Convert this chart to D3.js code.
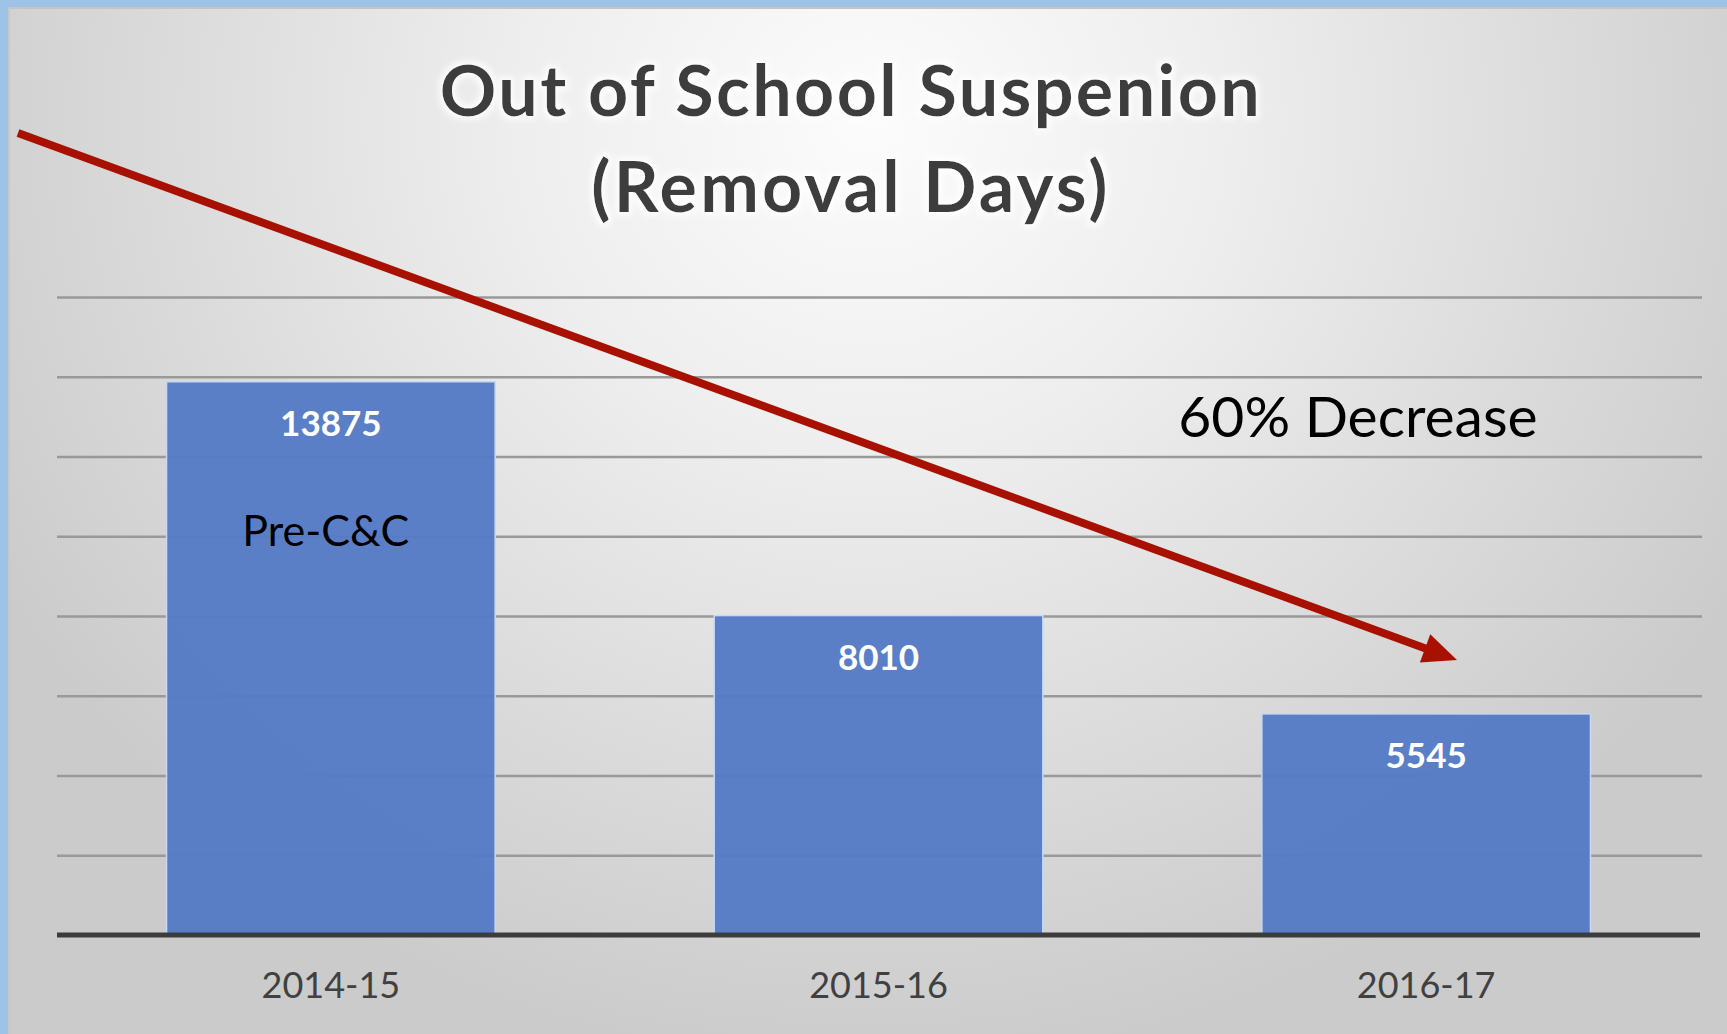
<!DOCTYPE html>
<html>
<head>
<meta charset="utf-8">
<script src="https://cdn.jsdelivr.net/npm/d3@7"></script>
<style>
  html, body { margin: 0; padding: 0; background: #fff; }
  svg { display: block; }
</style>
</head>
<body>
<svg id="chart" width="1727" height="1034"></svg>
<script>
// ---- data ----
const categories = ["2014-15", "2015-16", "2016-17"];
const values = [13875, 8010, 5545];
const yTicks = [0, 2000, 4000, 6000, 8000, 10000, 12000, 14000, 16000];
const titleLines = ["Out of School Suspenion", "(Removal Days)"];
const annotations = ["Pre-C&C", "60% Decrease"];

const W = 1727, H = 1034;
const svg = d3.select("#chart");
const defs = svg.append("defs");

// background gradient
const rg = defs.append("radialGradient").attr("id", "bg")
  .attr("gradientUnits", "userSpaceOnUse")
  .attr("cx", 870).attr("cy", 120).attr("r", 1000)
  .attr("gradientTransform", "translate(870,120) scale(1,0.95) translate(-870,-120)");
rg.append("stop").attr("offset", 0).attr("stop-color", "#fcfcfc");
rg.append("stop").attr("offset", 0.35).attr("stop-color", "#eeeeee");
rg.append("stop").attr("offset", 0.7).attr("stop-color", "#dbdbdb");
rg.append("stop").attr("offset", 1).attr("stop-color", "#cbcbcb");

// glow filter for title
const glow = defs.append("filter").attr("id", "glow").attr("x", "-10%").attr("y", "-30%").attr("width", "120%").attr("height", "160%");
glow.append("feMorphology").attr("in", "SourceAlpha").attr("operator", "dilate").attr("radius", 3).attr("result", "d");
glow.append("feGaussianBlur").attr("in", "d").attr("stdDeviation", 3).attr("result", "b");
glow.append("feFlood").attr("flood-color", "#ffffff").attr("flood-opacity", 0.9);
glow.append("feComposite").attr("in2", "b").attr("operator", "in").attr("result", "g");
const gm = glow.append("feMerge");
gm.append("feMergeNode").attr("in", "g");
gm.append("feMergeNode").attr("in", "SourceGraphic");

svg.append("rect").attr("width", W).attr("height", H).attr("fill", "url(#bg)");

// blue frame (top and left)
svg.append("rect").attr("x", 0).attr("y", 0).attr("width", W).attr("height", 7).attr("fill", "#9dc3e6");
svg.append("rect").attr("x", 0).attr("y", 0).attr("width", 8).attr("height", H).attr("fill", "#9dc3e6");
svg.append("rect").attr("x", 8).attr("y", 7).attr("width", W - 8).attr("height", 2).attr("fill", "#c4c4c4");
svg.append("rect").attr("x", 8).attr("y", 7).attr("width", 2).attr("height", H - 7).attr("fill", "#c8c8c8");

// scales
const x = d3.scaleBand().domain(categories).range([57, 1700]).paddingInner(0.4).paddingOuter(0.2);
const y = d3.scaleLinear().domain([0, 16000]).range([935, 297]);

// gridlines
const gridLeft = 57, gridRight = 1702;
const grid = svg.append("g")
  .attr("transform", `translate(${gridLeft},0)`)
  .call(d3.axisLeft(y).tickValues(yTicks.slice(1)).tickSize(-(gridRight - gridLeft)).tickFormat(""));
grid.select(".domain").remove();
grid.selectAll(".tick line").attr("stroke", "#999999").attr("stroke-width", 2.4);

// bars
svg.append("g").selectAll("rect").data(values).join("rect")
  .attr("x", (d, i) => x(categories[i]))
  .attr("y", d => y(d))
  .attr("width", x.bandwidth())
  .attr("height", d => y(0) - y(d))
  .attr("fill", "#557bc5")
  .attr("fill-opacity", 0.96)
  .attr("stroke", "#c9d8f2")
  .attr("stroke-width", 1.5);

// x axis
const xa = svg.append("g").attr("transform", "translate(0,935)")
  .call(d3.axisBottom(x).tickSize(0).tickPadding(0));
xa.select(".domain").remove();
svg.append("line").attr("x1", 57).attr("x2", 1700).attr("y1", 935).attr("y2", 935)
  .attr("stroke", "#3c3c3c").attr("stroke-width", 5);
xa.selectAll(".tick text")
  .attr("dy", 0).attr("y", 63)
  .attr("font-family", "Lato, 'Open Sans', sans-serif")
  .attr("font-size", 36)
  .attr("fill", "#404040")
  .attr("text-anchor", "middle");

// value labels
svg.append("g").selectAll("text").data(values).join("text")
  .attr("x", (d, i) => x(categories[i]) + x.bandwidth() / 2)
  .attr("y", d => y(d) + 54)
  .attr("text-anchor", "middle")
  .attr("font-family", "Lato, 'Open Sans', sans-serif")
  .attr("font-size", 35)
  .attr("font-weight", 700)
  .attr("fill", "#ffffff")
  .text(d => d);

// title
svg.append("g").selectAll("text").data(titleLines).join("text")
  .attr("x", 851)
  .attr("y", (d, i) => i === 0 ? 116 : 212)
  .attr("text-anchor", "middle")
  .attr("font-family", "Lato, 'Open Sans', sans-serif")
  .attr("font-weight", 700)
  .attr("font-size", 70)
  .attr("letter-spacing", (d, i) => i === 0 ? 2.4 : 3.2)
  .attr("fill", "#3d3d3d")
  .attr("filter", "url(#glow)")
  .text(d => d);

// annotations
svg.append("text")
  .attr("x", x(categories[0]) + x.bandwidth() / 2 - 5)
  .attr("y", 546)
  .attr("text-anchor", "middle")
  .attr("font-family", "Lato, 'Open Sans', sans-serif")
  .attr("font-size", 43)
  .attr("fill", "#000")
  .text(annotations[0]);

svg.append("text")
  .attr("x", 1358)
  .attr("y", 437)
  .attr("text-anchor", "middle")
  .attr("font-family", "Lato, 'Open Sans', sans-serif")
  .attr("font-size", 57)
  .attr("fill", "#000")
  .text(annotations[1]);

// arrow
const arrowColor = "#a81100";
const x0 = 18, y0 = 133, x1 = 1457, y1 = 660;
const ang = Math.atan2(y1 - y0, x1 - x0);
const headLen = 34, headHalf = 15;
const bx = x1 - headLen * Math.cos(ang), by = y1 - headLen * Math.sin(ang);
svg.append("line").attr("x1", x0).attr("y1", y0).attr("x2", bx + 2 * Math.cos(ang)).attr("y2", by + 2 * Math.sin(ang))
  .attr("stroke", arrowColor).attr("stroke-width", 8);
const px = -Math.sin(ang), py = Math.cos(ang);
svg.append("path")
  .attr("d", d3.line()([[x1, y1], [bx + headHalf * px, by + headHalf * py], [bx - headHalf * px, by - headHalf * py]]) + "Z")
  .attr("fill", arrowColor);
</script>
</body>
</html>
